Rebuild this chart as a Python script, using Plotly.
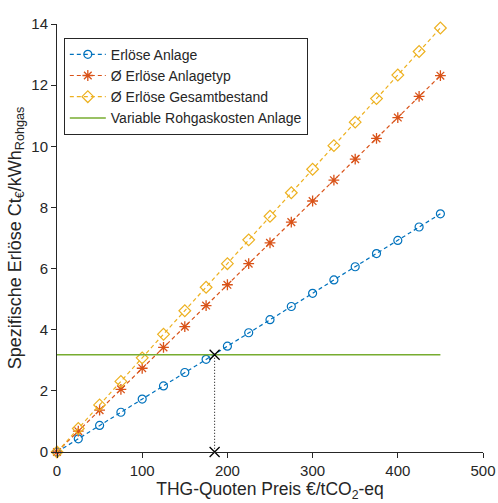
import plotly.graph_objects as go

preis = [0, 25, 50, 75, 100, 125, 150, 175, 200, 225, 250, 275, 300, 325, 350, 375, 400, 425, 450]
erloese_anlage = [0, 0.43, 0.87, 1.30, 1.73, 2.16, 2.60, 3.03, 3.46, 3.90, 4.33, 4.76, 5.19, 5.63, 6.06, 6.49, 6.92, 7.36, 7.79]
erloese_anlagetyp = [0, 0.68, 1.37, 2.05, 2.74, 3.42, 4.10, 4.79, 5.47, 6.16, 6.84, 7.52, 8.21, 8.89, 9.58, 10.26, 10.94, 11.63, 12.31]
erloese_gesamt = [0, 0.77, 1.54, 2.31, 3.08, 3.85, 4.62, 5.39, 6.16, 6.94, 7.71, 8.48, 9.25, 10.02, 10.79, 11.56, 12.33, 13.10, 13.87]
kosten_x = [0, 450]
kosten_y = [3.18, 3.18]
schnitt_x = [185, 185]
schnitt_y = [3.18, 0]

blue = "#0072BD"
orange = "#D95319"
yellow = "#EDB120"
green = "#77AC30"
font = "Liberation Sans, Arial, sans-serif"
dash = "4px,3px"

fig = go.Figure()
fig.add_trace(go.Scatter(x=preis, y=erloese_anlage, mode="lines+markers", name="Erlöse Anlage",
                         line=dict(color=blue, dash=dash, width=1.2),
                         marker=dict(symbol="circle-open", size=8, color=blue, line=dict(width=1.2)),
                         cliponaxis=False))
fig.add_trace(go.Scatter(x=preis, y=erloese_anlagetyp, mode="lines+markers", name="Ø Erlöse Anlagetyp",
                         line=dict(color=orange, dash=dash, width=1.2),
                         marker=dict(symbol="asterisk-open", size=9, color=orange, line=dict(width=1.3, color=orange)),
                         cliponaxis=False))
fig.add_trace(go.Scatter(x=preis, y=erloese_gesamt, mode="lines+markers", name="Ø Erlöse Gesamtbestand",
                         line=dict(color=yellow, dash=dash, width=1.2),
                         marker=dict(symbol="diamond-open", size=9, color=yellow, line=dict(width=1.2)),
                         cliponaxis=False))
fig.add_trace(go.Scatter(x=kosten_x, y=kosten_y, mode="lines", name="Variable Rohgaskosten Anlage",
                         line=dict(color=green, width=1.5)))
fig.add_trace(go.Scatter(x=schnitt_x, y=schnitt_y, mode="lines+markers", showlegend=False,
                         line=dict(color="black", dash="1px,2px", width=1),
                         marker=dict(symbol="x-thin-open", size=10, color="black", line=dict(width=1.3, color="black")),
                         cliponaxis=False))

axis_common = dict(showline=True, linecolor="#262626", linewidth=1, ticks="outside", ticklen=5,
                   tickcolor="#262626", showgrid=False, zeroline=False, automargin=False,
                   tickfont=dict(family=font, size=15, color="#262626"))
fig.update_layout(
    width=498, height=503,
    margin=dict(l=57, r=15, t=24, b=51),
    plot_bgcolor="white", paper_bgcolor="white",
    font=dict(family=font, color="#262626"),
    xaxis=dict(range=[0, 500], tickvals=[0, 100, 200, 300, 400, 500],
               title=dict(text="THG-Quoten Preis €/tCO<sub>2</sub>-eq",
                          font=dict(size=17.5), standoff=3),
               **axis_common),
    yaxis=dict(range=[0, 14], tickvals=[0, 2, 4, 6, 8, 10, 12, 14],
               title=dict(text="Spezifische Erlöse Ct<sub>€</sub>/kWh<sub>Rohgas</sub>",
                          font=dict(size=18), standoff=5),
               **axis_common),
    legend=dict(x=0.016, y=0.968, xanchor="left", yanchor="top", bgcolor="white",
                bordercolor="#262626", borderwidth=1, font=dict(size=14, color="#262626"),
                tracegroupgap=0, itemwidth=36),
    showlegend=True,
)
fig.write_html("out.html")
